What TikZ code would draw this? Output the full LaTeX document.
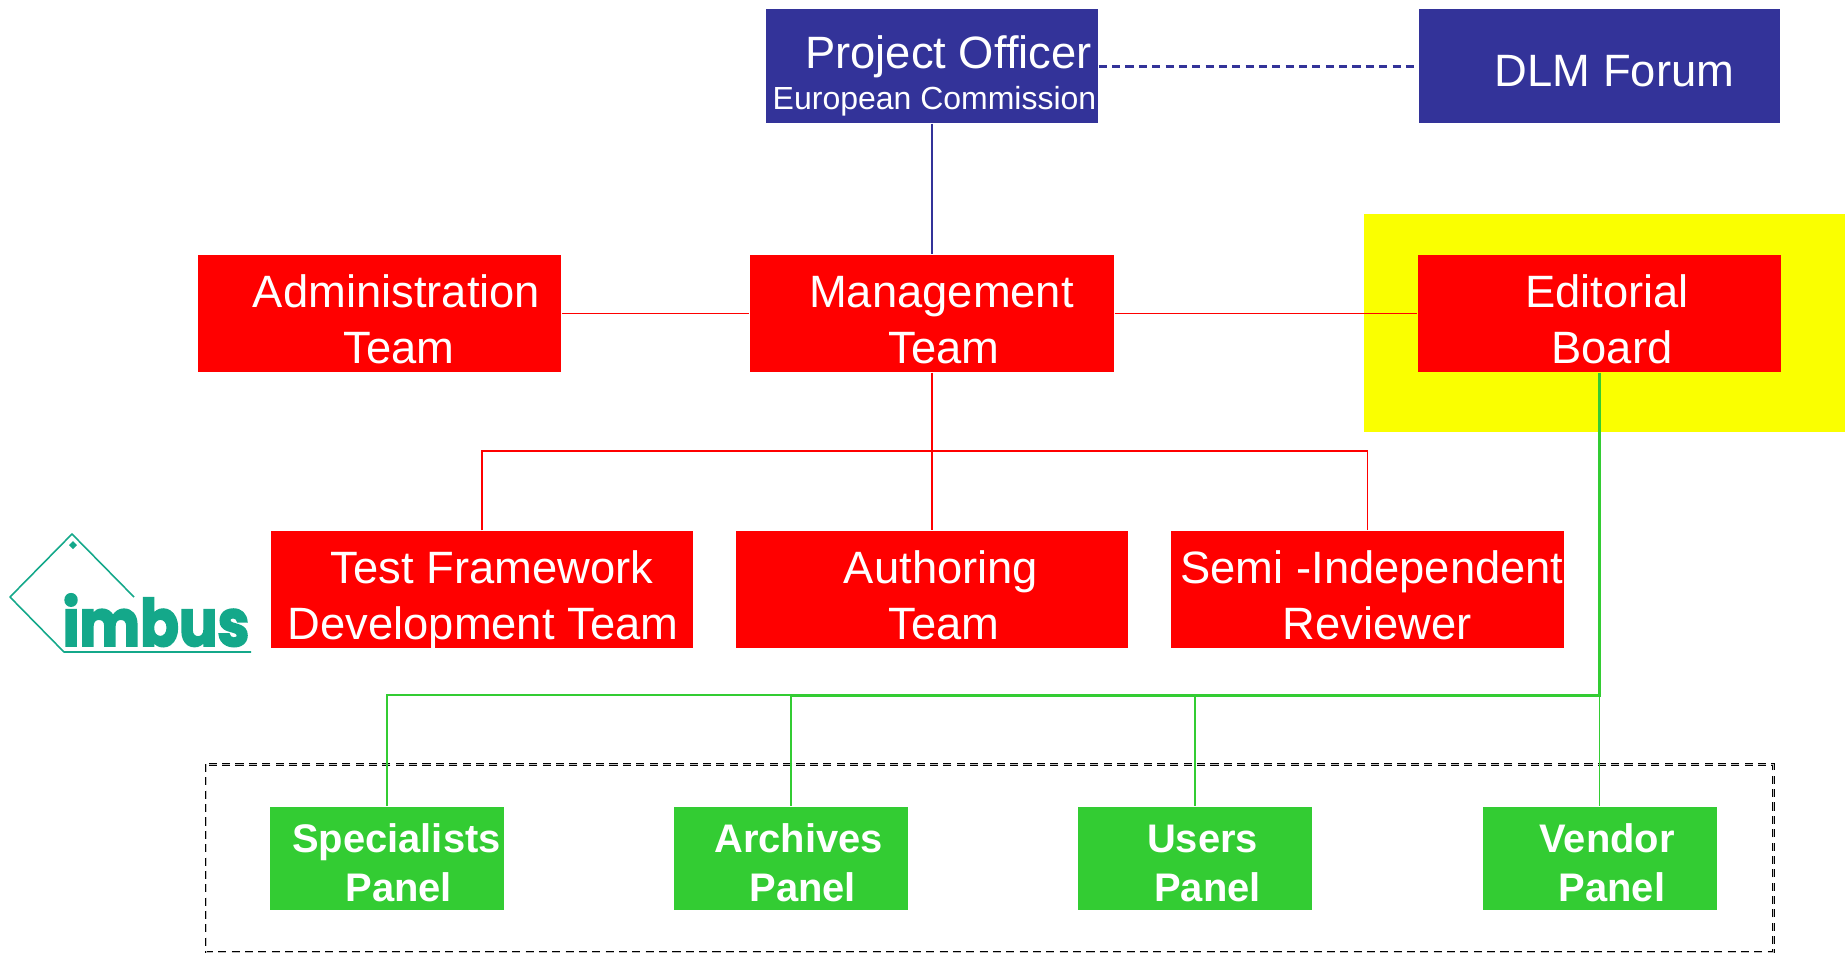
\documentclass[tikz,border=0pt]{standalone}
\usepackage{xcolor}
\usepackage{fontspec}
\usepackage{tikz}
\setmainfont{Liberation Sans}
\newfontfamily\logofont{Poppins}[BoldFeatures={FakeBold=3}]
\usetikzlibrary{positioning,calc}
\definecolor{officeblue}{RGB}{51,51,153}
\definecolor{panelgreen}{RGB}{51,204,51}
\definecolor{logogreen}{RGB}{20,168,138}
\definecolor{hilite}{RGB}{250,255,0}
\newcommand{\sft}[1]{\rule[-2.25pt]{0pt}{17.1pt}\hspace*{#1cm}}
\newcommand{\sfg}[1]{\rule[-2.4pt]{0pt}{15.3pt}\hspace*{#1cm}}
\newcommand{\fixedlines}{\lineskiplimit -100pt\relax}
\tikzset{
    bigtext/.style={font=\fontsize{12.9}{16}\selectfont\fixedlines},
    bluebox/.style={fill=officeblue, text=white, align=center, inner sep=0pt, minimum height=1.14cm, bigtext},
    redbox/.style={fill=red, text=white, align=center, inner sep=0pt, minimum height=1.17cm, bigtext},
    greenbox/.style={fill=panelgreen, text=white, align=center, inner sep=0pt, minimum width=2.34cm, minimum height=1.03cm, font=\fontsize{11.35}{14}\selectfont\bfseries\fixedlines},
    redline/.style={draw=red, line width=0.45pt},
    greenline/.style={draw=panelgreen, line width=0.45pt},
    greenthick/.style={draw=panelgreen, line width=0.85pt},
    logoline/.style={draw=logogreen, line width=0.45pt, line join=round}
}

\begin{document}
\begin{tikzpicture}
    \useasboundingbox (0, 0) rectangle (18.45, -9.52);

    \node[fill=hilite, inner sep=0pt, minimum width=4.81cm, minimum height=2.18cm] (highlight) at (16.045, -3.23) {};
    \draw[black, line width=0.3pt, double=gray!50, double distance=0.25pt, dash pattern=on 2.3pt off 1.5pt] (2.06, -7.64) rectangle (17.73, -9.52);

    \node[bluebox, minimum width=3.32cm] (officer) at (9.32, -0.66) {\rule{0pt}{15pt}\hspace*{0.33cm}Project Officer\\[-4.4pt]\fontsize{9.1}{12}\selectfont\hspace*{0.05cm}European Commission};
    \node[bluebox, minimum width=3.61cm] (forum) at (15.995, -0.66) {\rule[-1pt]{0pt}{13.7pt}\hspace*{0.3cm}DLM Forum};

    \node[redbox, minimum width=3.63cm] (admin) at (3.795, -3.135) {\sft{0.34}Administration\\\sft{0.39}Team};
    \node[redbox, minimum width=3.64cm] (mgmt) at (9.32, -3.135) {\sft{0.19}Management\\\sft{0.235}Team};
    \node[redbox, minimum width=3.63cm] (board) at (15.995, -3.135) {\sft{0.15}Editorial\\\sft{0.25}Board};

    \node[redbox, minimum width=4.22cm] (framework) at (4.82, -5.895) {\sft{0.2}Test Framework\\\sft{0.02}\smash{Development Team}};
    \node[redbox, minimum width=3.92cm] (authoring) at (9.32, -5.895) {\sft{0.18}Authoring\\\sft{0.235}Team};
    \node[redbox, minimum width=3.93cm] (reviewer) at (13.675, -5.895) {\sft{0.09}Semi -Independent\\\sft{0.19}Reviewer};

    \node[greenbox] (specialists) at (3.87, -8.585) {\sfg{0.19}Specialists\\\sfg{0.235}Panel};
    \node[greenbox] (archives) at (7.91, -8.585) {\sfg{0.15}Archives\\\sfg{0.235}Panel};
    \node[greenbox] (users) at (11.95, -8.585) {\sfg{0.15}Users\\\sfg{0.25}Panel};
    \node[greenbox] (vendor) at (15.995, -8.585) {\sfg{0.15}Vendor\\\sfg{0.25}Panel};

    \coordinate (redbus) at (9.32, -4.51);
    \coordinate (greenbus) at (15.995, -6.95);
    \coordinate (greenjoin) at (archives.north |- greenbus);

    \draw[officeblue, line width=0.35pt] (officer) -- (mgmt);
    \draw[officeblue, line width=0.85pt, dash pattern=on 2.3pt off 1.5pt] (officer) -- (forum);

    \draw[redline] (admin) -- (mgmt);
    \draw[redline] (mgmt) -- (board);
    \draw[redline] (mgmt) -- (authoring);
    \draw[redline] (framework.north) |- (redbus) -| (reviewer.north);

    \draw[greenthick] (board.south) -- (greenbus) -- (greenjoin);
    \draw[greenline] (greenbus) -- (vendor.north);
    \draw[greenline] (greenjoin) -- (archives.north);
    \draw[greenline] (users.north |- greenbus) -- (users.north);
    \draw[greenline] (greenjoin) -| (specialists.north);

    \coordinate (logotop) at (0.72, -5.34);
    \coordinate (logoleft) at (0.1, -5.97);
    \coordinate (logobottom) at (0.64, -6.52);
    \coordinate (logoend) at (2.51, -6.52);
    \coordinate (logoflap) at (1.34, -5.97);
    \draw[logoline] (logoflap) -- (logotop) -- (logoleft) -- (logobottom) -- (logoend);
    \fill[logogreen] (0.73, -5.41) -- (0.77, -5.45) -- (0.73, -5.49) -- (0.69, -5.45) -- cycle;
    \node[text=logogreen, inner sep=0pt, anchor=base, xscale=0.88, transform shape, font=\fontsize{18.5}{20}\logofont\bfseries] (logo) at (1.56, -6.46) {imbus};
\end{tikzpicture}
\end{document}
